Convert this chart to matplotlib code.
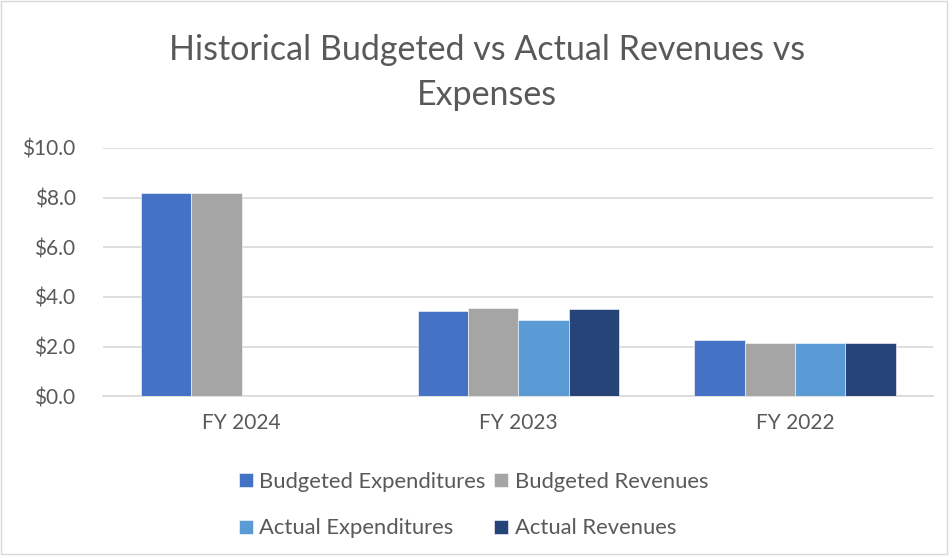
import numpy as np
import matplotlib.pyplot as plt
from matplotlib.patches import Rectangle

# datos (millones)
years = ['FY 2024', 'FY 2023', 'FY 2022']
budgeted_exp = [8.2, 3.45, 2.25]
budgeted_rev = [8.2, 3.56, 2.15]
actual_exp = [np.nan, 3.05, 2.15]
actual_rev = [np.nan, 3.5, 2.15]
series_names = ['Budgeted Expenditures', 'Budgeted Revenues',
                'Actual Expenditures', 'Actual Revenues']
colores = ['#4472C4', '#A5A5A5', '#5B9BD5', '#264478']

plt.rcParams['font.family'] = ['Lato', 'DejaVu Sans']

fig = plt.figure(figsize=(9.53, 5.58), dpi=100)
ax = fig.add_axes([0.1084, 0.290, 0.871, 0.445])

x = np.arange(len(years))
w = 0.182
series = [budgeted_exp, budgeted_rev, actual_exp, actual_rev]
handles = []
for i, vals in enumerate(series):
    b = ax.bar(x + (i - 1.5) * w, vals, w, color=colores[i],
               label=series_names[i], zorder=3, edgecolor='white', linewidth=0.4)
    handles.append(b)

ax.set_xlim(-0.5, 2.5)
ax.set_ylim(0, 10)
ax.set_yticks(np.arange(0, 10.1, 2))
ax.set_yticklabels(['$%.1f' % v for v in np.arange(0, 10.1, 2)])
ax.set_xticks(x)
ax.set_xticklabels(years)
ax.grid(axis='y', color='#D9D9D9', linewidth=1.2, zorder=0)
for s in ['top', 'right', 'left']:
    ax.spines[s].set_visible(False)
ax.spines['bottom'].set_color('#D9D9D9')
ax.spines['bottom'].set_linewidth(1.2)
ax.tick_params(axis='both', length=0, labelsize=15, colors='#595959')
ax.tick_params(axis='y', pad=20)
ax.tick_params(axis='x', pad=12)

fig.text(0.511, 0.870, 'Historical Budgeted vs Actual Revenues vs\nExpenses',
         ha='center', va='center', fontsize=24.5, color='#595959',
         linespacing=1.47, fontweight='normal')

# orden por columnas para que las filas queden como en la original
orden = [0, 2, 1, 3]
fig.legend(handles=[handles[k] for k in orden],
           labels=[series_names[k] for k in orden], ncol=2, loc='center',
           bbox_to_anchor=(0.497, 0.095), frameon=False, fontsize=15.8,
           labelcolor='#595959', handlelength=0.62, handleheight=0.62,
           handletextpad=0.3, columnspacing=0.4, labelspacing=1.22)

# borde del area del grafico
fig.patches.append(Rectangle((0.001, 0.008), 0.993, 0.99, transform=fig.transFigure,
                             fill=False, edgecolor='#D9D9D9', linewidth=1))

fig.savefig('out.png', dpi=100)
